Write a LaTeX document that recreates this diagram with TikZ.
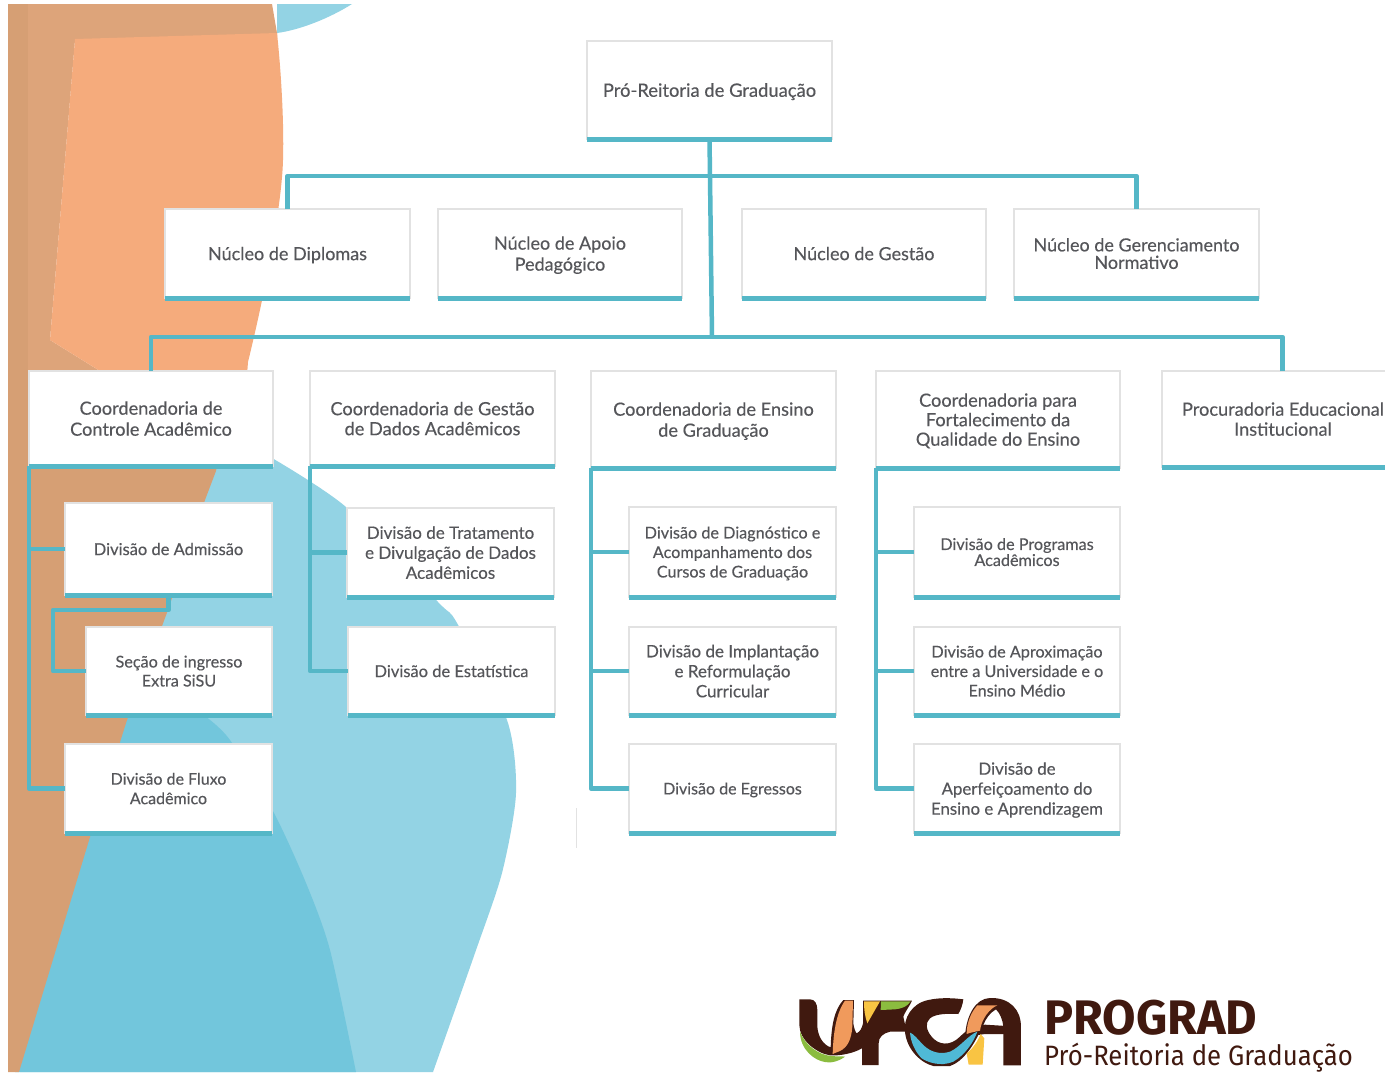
\documentclass[tikz,border=0pt]{standalone}
\usepackage{fontspec}
\setmainfont{Lato}[FakeBold=0.3]
\newfontfamily\logofont{Fira Sans}
\newfontfamily\logolight{Fira Sans}[FakeStretch=0.92]
\definecolor{tealbar}{HTML}{55B7C7}
\definecolor{txt}{HTML}{55565A}
\definecolor{edgegray}{HTML}{E2E2E2}
\definecolor{bgorange}{HTML}{F5AB7C}
\definecolor{bgtan}{HTML}{D69F74}
\definecolor{bgtop}{HTML}{DDA47A}
\definecolor{bglight}{HTML}{93D3E4}
\definecolor{bgmid}{HTML}{72C6DC}
\definecolor{logobrown}{HTML}{40190F}
\definecolor{logoorange}{HTML}{F09A5C}
\definecolor{logoyellow}{HTML}{F9C443}
\definecolor{logogreen}{HTML}{8BBC3F}
\definecolor{logoblue}{HTML}{4FB9D6}
\tikzset{
  orgbox/.style={draw=edgegray,line width=1.2pt,fill=white,text=txt,align=center,inner sep=0pt,outer sep=0pt},
  orgbar/.style={draw=tealbar,line width=5pt},
  conn/.style={draw=tealbar,line width=4.5pt,line join=round}
}
\newcommand\fsz[2]{\fontsize{#1}{#2}\selectfont}
% name, left, top, right, bottom, size, leading, text
\newcommand\bx[8]{%
  \node[orgbox,font=\fsz{#6}{#7},minimum width={(#4-#2)*1pt},minimum height={(#5-#3)*1pt},text depth=0pt] (#1) at ({(#2+#4)/2},{(#3+#5)/2}) {#8};
  \draw[orgbar] (#1.south west) -- (#1.south east);
}
\begin{document}
\begin{tikzpicture}[x=1pt,y=-1pt]
\useasboundingbox (0,0) rectangle (1385,1072);
\clip (0,0) rectangle (1385,1072);
\fill[white] (0,0) rectangle (1385,1072);
% background shapes
\fill[bglight] (277,4) -- (352,4) .. controls (330,18) and (300,30) .. (277,33) -- cycle;
\fill[bglight] plot[smooth,tension=.45] coordinates {(272,458) (346,507) (438,602) (457,623) (507,720) (516,793) (502,873) (475,953) (433,1072)} -- (20,1072) -- (150,458) -- cycle;
\fill[bgmid] plot[smooth,tension=.45] coordinates {(205,716) (230,740) (274,813) (306,883) (330,950) (356,1072)} -- (15,1072) -- (125,716) -- cycle;
\fill[bgtan] (8,450) -- (220,450) -- (216,471) -- (205,500) -- (168,610) -- (127,720) -- (90,837) -- (19,1072) -- (8,1072) -- cycle;
\fill[bgtop] (8,4) -- (272,4) -- (277,33) -- (277,38) -- (75,40) -- (50,340) -- (100,371) -- (100,460) -- (8,460) -- cycle;
\fill[bgtan] (8,4) -- (28,4) -- (28,460) -- (8,460) -- cycle;
\fill[bgorange] (75,39) -- (277,33) .. controls (282,80) and (284,130) .. (283,160) .. controls (282,200) and (268,280) .. (248,362) -- (240,466) -- (100,466) -- (100,371) -- (50,340) -- cycle;
\draw[edgegray,line width=.8pt] (576,808) -- (576,848);
% boxes
\bx{pr}{587}{41}{832}{139}{18.4}{21}{Pró-Reitoria de Graduação}
\bx{nd}{165}{209}{410}{298}{18}{21}{Núcleo de Diplomas}
\bx{nap}{438}{209}{682}{298}{18}{21}{Núcleo de Apoio\\Pedagógico}
\bx{ngt}{742}{209}{986}{298}{18}{21}{Núcleo de Gestão}
\bx{ngn}{1014}{209}{1259}{298}{18}{17.5}{Núcleo de Gerenciamento\\Normativo}
\bx{cca}{29}{371}{273}{466}{18.2}{21}{Coordenadoria de\\Controle Acadêmico}
\bx{cgd}{310}{371}{555}{466}{18.2}{20}{Coordenadoria de Gestão\\de Dados Acadêmicos}
\bx{ceg}{591}{371}{836}{468}{18.2}{21}{Coordenadoria de Ensino\\de Graduação}
\bx{cfq}{876}{371}{1120}{468}{18.2}{19.5}{Coordenadoria para\\Fortalecimento da\\Qualidade do Ensino}
\bx{pei}{1162}{371}{1404}{467}{18.2}{20}{Procuradoria Educacional\\Institucional}
\bx{da}{65}{503}{272}{595}{16.5}{20}{Divisão de Admissão}
\bx{si}{86}{627}{272}{715}{16.2}{19}{Seção de ingresso\\Extra SiSU}
\bx{dfa}{65}{744}{272}{833}{16}{19.5}{Divisão de Fluxo\\Acadêmico}
\bx{dtd}{347}{508}{554}{597}{17}{20}{Divisão de Tratamento\\e Divulgação de Dados\\Acadêmicos}
\bx{des}{348}{627}{555}{715}{16.5}{20}{Divisão de Estatística}
\bx{ddc}{629}{507}{836}{597}{16.2}{19.5}{Divisão de Diagnóstico e\\Acompanhamento dos\\Cursos de Graduação}
\bx{dir}{629}{627}{836}{715}{17}{20}{Divisão de Implantação\\e Reformulação\\Curricular}
\bx{deg}{629}{744}{836}{833}{16}{20}{Divisão de Egressos}
\bx{dpa}{914}{507}{1120}{597}{16.2}{16}{Divisão de Programas\\Acadêmicos}
\bx{dau}{914}{627}{1120}{715}{16.2}{19.5}{Divisão de Aproximação\\entre a Universidade e o\\Ensino Médio}
\bx{dae}{914}{744}{1120}{833}{16.8}{20}{Divisão de\\Aperfeiçoamento do\\Ensino e Aprendizagem}
% connectors
\coordinate (busa) at (710,176);
\coordinate (busb) at (712,337);
\coordinate (busc) at (53,610);
\draw[conn] (pr.south) -- (busa) -- (busb);
\draw[conn] (nd.north) |- (busa);
\draw[conn] (ngn.north) |- (busa);
\draw[conn] (cca.north) |- (busb);
\draw[conn] (pei.north) ++(-0.5,0) |- (busb);
\draw[conn] (cca.south west) |- (da.west);
\draw[conn] (cca.south west) |- (dfa.west);
\draw[conn] (da.south) |- (busc) |- (si.west);
\draw[conn] (cgd.south west) |- (dtd.west);
\draw[conn] (cgd.south west) |- (des.west);
\draw[conn] (ceg.south west) |- (ddc.west);
\draw[conn] (ceg.south west) |- (dir.west);
\draw[conn] (ceg.south west) |- (deg.west);
\draw[conn] (cfq.south west) |- (dpa.west);
\draw[conn] (cfq.south west) |- (dau.west);
\draw[conn] (cfq.south west) |- (dae.west);
% logo
\begin{scope}[shift={(790,990)},x=.3333pt,y=-.3333pt]
\fill[logobrown] (28,28) -- (60,28) .. controls (75,28) and (82,42) .. (82,60) -- (82,110) .. controls (84,140) and (100,165) .. (122,172) .. controls (124,110) and (132,60) .. (160,30) -- (192,30) -- (190,100) .. controls (192,115) and (196,125) .. (200,130) .. controls (210,125) and (216,115) .. (219,100) -- (219,32) -- (366,32) .. controls (355,55) and (345,65) .. (340,80) -- (350,125) -- (300,125) .. controls (280,130) and (266,140) .. (266,160) -- (266,225) -- (216,225) -- (216,175) .. controls (190,190) and (150,198) .. (120,196) .. controls (80,190) and (28,150) .. (28,105) -- cycle;
\fill[logobrown] (345,125) .. controls (340,85) and (365,40) .. (415,30) .. controls (450,22) and (490,24) .. (520,28) .. controls (518,45) and (512,60) .. (505,72) .. controls (470,70) and (435,72) .. (420,85) .. controls (405,98) and (408,120) .. (425,140) .. controls (445,165) and (480,170) .. (510,140) .. controls (530,120) and (550,108) .. (585,104) -- (650,108) -- (650,132) -- (585,132) -- (565,135) .. controls (550,165) and (520,215) .. (480,228) -- (430,228) .. controls (395,220) and (350,180) .. (345,125) -- cycle;
\fill[logobrown] (526,130) .. controls (530,80) and (555,25) .. (600,24) .. controls (660,22) and (693,60) .. (693,110) -- (693,226) -- (640,226) -- (640,110) .. controls (638,88) and (630,70) .. (618,58) .. controls (600,68) and (588,85) .. (580,105) -- (570,125) -- cycle;
\fill[logogreen] (30,125) .. controls (45,165) and (85,195) .. (125,198) .. controls (140,200) and (155,198) .. (165,200) .. controls (145,215) and (120,220) .. (105,216) .. controls (75,212) and (30,180) .. (30,125) -- cycle;
\fill[logoorange] (165,32) -- (189,32) -- (187,110) .. controls (184,150) and (172,172) .. (150,183) .. controls (140,187) and (132,190) .. (128,192) .. controls (130,130) and (138,70) .. (165,32) -- cycle;
\fill[logoyellow] (222,34) -- (270,34) -- (232,100) .. controls (225,80) and (222,60) .. (222,34) -- cycle;
\fill[logogreen] (273,34) -- (362,34) .. controls (352,50) and (335,56) .. (315,58) -- (272,60) -- cycle;
\fill[logoblue] (360,128) .. controls (370,130) and (385,150) .. (400,165) .. controls (420,185) and (450,195) .. (480,185) .. controls (510,172) and (535,135) .. (562,125) .. controls (552,155) and (525,195) .. (490,215) .. controls (450,232) and (410,215) .. (395,205) .. controls (375,185) and (362,155) .. (360,128) -- cycle;
\fill[logoyellow] (530,190) .. controls (550,175) and (565,150) .. (572,132) -- (583,145) -- (578,224) -- (536,224) -- cycle;
\fill[logoorange] (562,46) -- (622,46) .. controls (600,55) and (575,85) .. (570,122) .. controls (555,125) and (540,128) .. (530,132) .. controls (530,95) and (545,65) .. (562,46) -- cycle;
\end{scope}
\node[text=logobrown,font=\logofont\bfseries\fsz{48.5}{48},inner sep=0pt,anchor=base west] (lgp) at (1044,1034) {PROGRAD};
\node[text=logobrown,font=\logolight\fsz{28}{28},inner sep=0pt,anchor=base west] (lgr) at (1044,1065) {Pró-Reitoria de Graduação};
\end{tikzpicture}
\end{document}
